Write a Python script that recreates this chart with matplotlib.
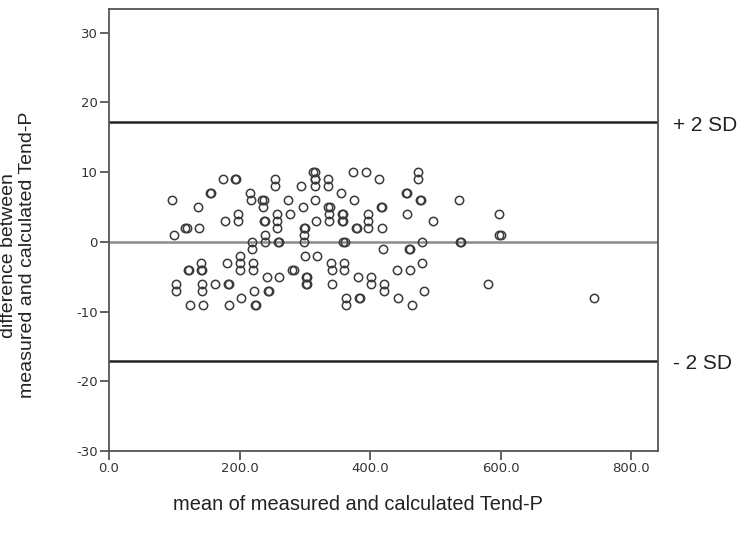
import matplotlib
matplotlib.use("Agg")
from matplotlib import pyplot as plt
import matplotlib.transforms as mtransforms

plt.rcParams['axes.unicode_minus'] = False

# mean of measured and calculated Tend-P (x) and difference (y)
mean_tp = [96, 100, 102, 103,
           116, 119, 121, 123, 124,
           137, 138, 141, 141, 143, 143, 143, 144,
           155, 157, 162,
           175, 177, 181, 182, 184, 184,
           193, 195, 198, 198, 200, 200, 201, 203,
           216, 217, 219, 219, 221, 221, 222, 223, 225,
           235, 237, 236, 237, 239, 239, 239, 242, 243, 245,
           254, 255, 257, 257, 258, 259, 261, 261,
           275, 277, 281, 283,
           294, 297, 298, 300, 298, 298, 300, 302, 303, 302, 303,
           313, 315, 315, 316, 315, 316, 317, 319,
           335, 335, 336, 338, 337, 337, 340, 341, 342,
           355, 357, 359, 357, 359, 359, 361, 360, 360, 363, 363,
           374, 376, 378, 380, 381, 383, 385,
           394, 397, 397, 397, 401, 401,
           414, 416, 418, 418, 420, 422, 422,
           441, 442,
           455, 457, 457, 459, 461, 461, 464,
           474, 474, 476, 478, 479, 480, 482,
           497, 536, 538, 540, 581, 597, 598, 600, 743]
diff_tp = [6, 1, -6, -7,
           2, 2, -4, -4, -9,
           5, 2, -3, -4, -4, -6, -7, -9,
           7, 7, -6,
           9, 3, -3, -6, -6, -9,
           9, 9, 4, 3, -2, -3, -4, -8,
           7, 6, 0, -1, -3, -4, -7, -9, -9,
           6, 6, 5, 3, 3, 1, 0, -5, -7, -7,
           9, 8, 4, 3, 2, 0, 0, -5,
           6, 4, -4, -4,
           8, 5, 2, 2, 1, 0, -2, -5, -5, -6, -6,
           10, 10, 9, 9, 8, 6, 3, -2,
           9, 8, 5, 5, 4, 3, -3, -4, -6,
           7, 4, 4, 3, 3, 0, 0, -3, -4, -8, -9,
           10, 6, 2, 2, -5, -8, -8,
           10, 4, 3, 2, -5, -6,
           9, 5, 5, 2, -1, -6, -7,
           -4, -8,
           7, 7, 4, -1, -1, -4, -9,
           10, 9, 6, 6, 0, -3, -7,
           3, 6, 0, 0, -6, 4, 1, 1, -8]

upper_sd = 17.2
lower_sd = -17.1

fig = plt.figure(figsize=(7.5, 5.37), dpi=100)
ax = fig.add_axes([0.1453, 0.1601, 0.732, 0.8233])

ax.axhline(0, color='#8c8c8c', lw=1.8, zorder=1)
ax.axhline(upper_sd, color='#222222', lw=1.8, zorder=1)
ax.axhline(lower_sd, color='#222222', lw=1.8, zorder=1)

ax.plot(mean_tp, diff_tp, ls='none', marker='o', ms=6, mfc='none',
        mec='#3a3a3a', mew=1.1, zorder=3)

ax.set_xlim(0, 841)
ax.set_ylim(-30, 33.4)
ax.set_xticks([0, 200, 400, 600, 800])
ax.set_xticklabels(['0.0', '200.0', '400.0', '600.0', '800.0'])
ax.set_yticks([-30, -20, -10, 0, 10, 20, 30])

for sp in ax.spines.values():
    sp.set_color('#555555')
    sp.set_linewidth(1.3)
ax.tick_params(direction='out', length=6.5, width=1.3, color='#555555',
               labelsize=9.5, labelcolor='#333333', pad=1.5)

trans = mtransforms.blended_transform_factory(ax.transAxes, ax.transData)
ax.text(1.027, upper_sd - 0.5, '+ 2 SD', transform=trans, ha='left', va='center',
        fontsize=15, family='Liberation Sans', color='#222222')
ax.text(1.027, lower_sd - 0.3, '- 2 SD', transform=trans, ha='left', va='center',
        fontsize=15, family='Liberation Sans', color='#222222')

fig.text(0.024, 0.525, 'difference between\nmeasured and calculated Tend-P',
         rotation=90, ha='center', va='center', multialignment='center',
         fontsize=14, family='Liberation Sans', color='#222222', linespacing=1.2)
fig.text(0.477, 0.06, 'mean of measured and calculated Tend-P', ha='center',
         va='center', fontsize=14.4, family='Liberation Sans', color='#222222')

fig.savefig('out.png', dpi=100)
